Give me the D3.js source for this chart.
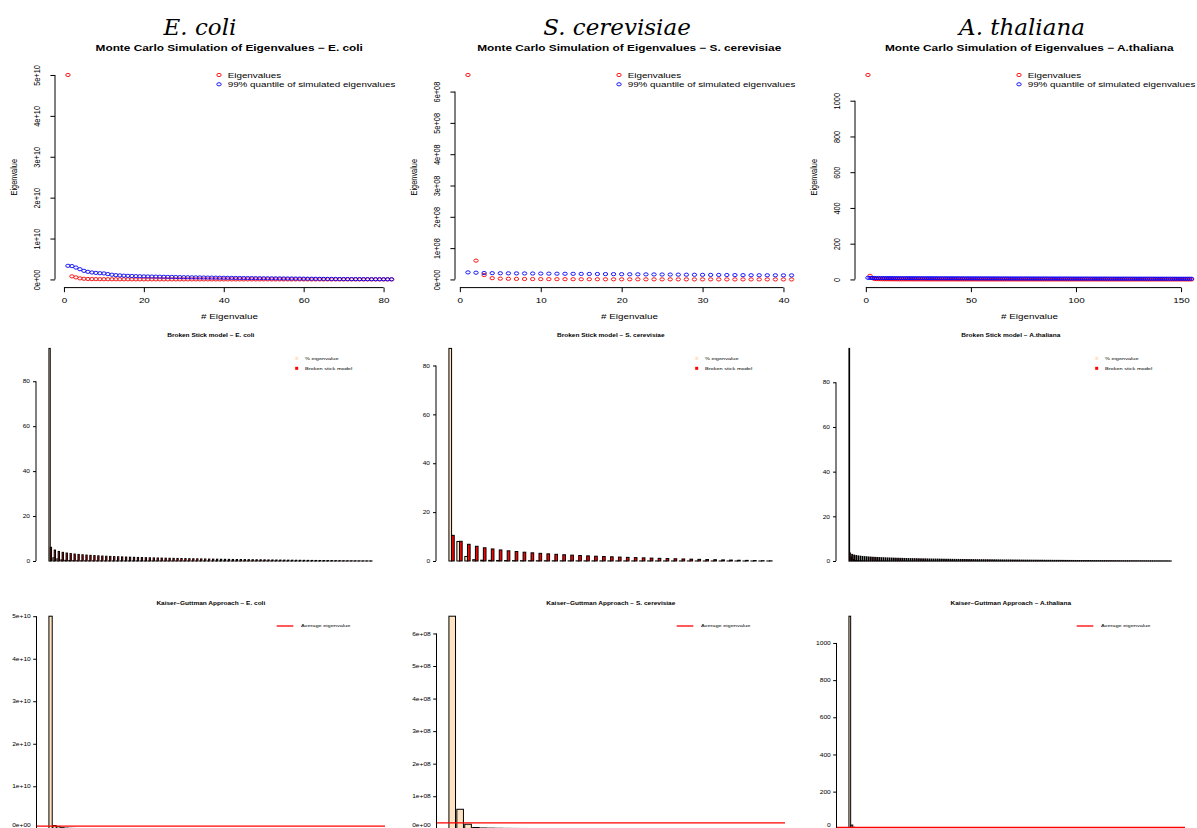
<!DOCTYPE html>
<html>
<head>
<meta charset="utf-8">
<script src="https://cdn.jsdelivr.net/npm/d3@7/dist/d3.min.js"></script>
<style>
  body { margin: 0; background: #fff; }
  svg { display: block; font-family: "Liberation Sans", Arial, Helvetica, sans-serif; }
</style>
</head>
<body>
<svg id="chart" width="1197" height="828"></svg>
<script>
// ---- values ----
const species = ["E. coli", "S. cerevisiae", "A. thaliana"];
const plotNames = ["E. coli", "S. cerevisiae", "A.thaliana"];

const ecoliEigen = [
  5.0e10, 7.5e8, 5.0e8, 2.6e8, 1.6e8, 1.1e8, 8.5e7, 7.0e7, 6.0e7, 5.2e7,
  4.6e7, 4.1e7, 3.7e7, 3.4e7, 3.1e7, 2.9e7, 2.7e7, 2.5e7, 2.3e7, 2.2e7,
  2.1e7, 2.0e7, 1.9e7, 1.8e7, 1.7e7, 1.65e7, 1.6e7, 1.5e7, 1.45e7, 1.4e7,
  1.35e7, 1.3e7, 1.25e7, 1.2e7, 1.15e7, 1.1e7, 1.05e7, 1.0e7, 9.8e6, 9.5e6,
  9.2e6, 9.0e6, 8.7e6, 8.5e6, 8.2e6, 8.0e6, 7.8e6, 7.5e6, 7.2e6, 7.0e6,
  6.8e6, 6.6e6, 6.4e6, 6.2e6, 6.0e6, 5.8e6, 5.6e6, 5.4e6, 5.2e6, 5.0e6,
  4.8e6, 4.6e6, 4.4e6, 4.2e6, 4.0e6, 3.8e6, 3.6e6, 3.4e6, 3.2e6, 3.0e6,
  2.8e6, 2.6e6, 2.4e6, 2.2e6, 2.0e6, 1.8e6, 1.6e6, 1.4e6, 1.2e6, 1.0e6,
  8.0e5, 6.0e5];
const ecoliSim99 = [
  3.33e9, 3.26e9, 2.9e9, 2.5e9, 2.1e9, 1.86e9, 1.7e9, 1.6e9, 1.52e9, 1.47e9,
  1.3e9, 1.15e9, 1.05e9, 9.8e8, 9.2e8, 8.8e8, 8.4e8, 8.0e8, 7.7e8, 7.4e8,
  7.2e8, 7.0e8, 6.8e8, 6.6e8, 6.4e8, 6.2e8, 6.0e8, 5.8e8, 5.6e8, 5.4e8,
  5.3e8, 5.1e8, 5.0e8, 4.8e8, 4.7e8, 4.5e8, 4.4e8, 4.3e8, 4.1e8, 4.0e8,
  3.9e8, 3.8e8, 3.6e8, 3.5e8, 3.4e8, 3.3e8, 3.2e8, 3.1e8, 3.0e8, 2.9e8,
  2.8e8, 2.7e8, 2.6e8, 2.5e8, 2.4e8, 2.3e8, 2.2e8, 2.1e8, 2.0e8, 1.9e8,
  1.8e8, 1.7e8, 1.6e8, 1.5e8, 1.4e8, 1.3e8, 1.2e8, 1.1e8, 1.0e8, 9.5e7,
  9.0e7, 8.5e7, 8.0e7, 7.5e7, 7.0e7, 6.5e7, 6.0e7, 5.5e7, 5.0e7, 4.5e7,
  4.0e7, 3.5e7];
const ecoliBroken = [
  6.09, 4.87, 4.26, 3.85, 3.54, 3.30, 3.10, 2.92, 2.77, 2.64,
  2.51, 2.40, 2.30, 2.21, 2.12, 2.04, 1.96, 1.89, 1.82, 1.76,
  1.70, 1.64, 1.58, 1.53, 1.48, 1.43, 1.38, 1.34, 1.30, 1.25,
  1.21, 1.17, 1.14, 1.10, 1.06, 1.03, 0.99, 0.96, 0.93, 0.90,
  0.87, 0.84, 0.81, 0.78, 0.75, 0.73, 0.70, 0.67, 0.65, 0.62,
  0.60, 0.57, 0.55, 0.53, 0.51, 0.48, 0.46, 0.44, 0.42, 0.40,
  0.38, 0.36, 0.34, 0.32, 0.30, 0.28, 0.26, 0.24, 0.23, 0.21,
  0.19, 0.17, 0.16, 0.14, 0.12, 0.11, 0.09, 0.08, 0.06, 0.05,
  0.03, 0.01];

const scerEigen = [
  6.53e8, 6.0e7, 1.4e7, 4.0e6, 2.5e6, 2.0e6, 1.6e6, 1.3e6, 1.1e6, 1.0e6,
  9.0e5, 8.5e5, 8.0e5, 7.0e5, 6.5e5, 6.0e5, 5.5e5, 5.0e5, 4.6e5, 4.2e5,
  3.9e5, 3.6e5, 3.3e5, 3.0e5, 2.8e5, 2.6e5, 2.4e5, 2.2e5, 2.0e5, 1.8e5,
  1.6e5, 1.4e5, 1.2e5, 1.0e5, 9.0e4, 8.0e4, 7.0e4, 6.0e4, 5.0e4, 4.0e4,
  3.0e4];
const scerSim99 = [
  2.25e7, 2.15e7, 2.05e7, 2.0e7, 1.97e7, 1.95e7, 1.93e7, 1.91e7, 1.89e7, 1.87e7,
  1.85e7, 1.83e7, 1.81e7, 1.79e7, 1.77e7, 1.75e7, 1.73e7, 1.71e7, 1.69e7, 1.67e7,
  1.65e7, 1.63e7, 1.61e7, 1.59e7, 1.57e7, 1.55e7, 1.53e7, 1.51e7, 1.49e7, 1.47e7,
  1.45e7, 1.43e7, 1.41e7, 1.39e7, 1.37e7, 1.35e7, 1.34e7, 1.33e7, 1.32e7, 1.31e7,
  1.30e7];
const scerBroken = [
  10.49, 8.06, 6.84, 6.02, 5.41, 4.93, 4.52, 4.17, 3.87, 3.60,
  3.35, 3.13, 2.93, 2.74, 2.56, 2.40, 2.25, 2.11, 1.97, 1.84,
  1.72, 1.60, 1.49, 1.39, 1.29, 1.19, 1.09, 1.00, 0.92, 0.83,
  0.75, 0.67, 0.60, 0.52, 0.45, 0.38, 0.31, 0.25, 0.18, 0.12,
  0.06];

const athaEigen = [
  1144, 20, 8, 3, 2, 1.6, 1.3, 1.1, 1.0, 0.9,
  0.8, 0.75, 0.7, 0.65, 0.6, 0.57, 0.54, 0.51, 0.48, 0.46,
  0.44, 0.42, 0.40, 0.38, 0.36, 0.35, 0.34, 0.33, 0.32, 0.31,
  0.30, 0.29, 0.28, 0.27, 0.26, 0.25, 0.24, 0.23, 0.22, 0.21,
  0.205, 0.2, 0.195, 0.19, 0.185, 0.18, 0.175, 0.17, 0.165, 0.16,
  0.155, 0.15, 0.145, 0.14, 0.135, 0.13, 0.125, 0.12, 0.118, 0.116,
  0.114, 0.112, 0.11, 0.108, 0.106, 0.104, 0.102, 0.1, 0.098, 0.096,
  0.094, 0.092, 0.09, 0.088, 0.086, 0.084, 0.082, 0.08, 0.078, 0.076,
  0.074, 0.072, 0.07, 0.068, 0.066, 0.064, 0.062, 0.06, 0.058, 0.056,
  0.054, 0.052, 0.05, 0.048, 0.046, 0.044, 0.042, 0.04, 0.038, 0.036,
  0.035, 0.034, 0.033, 0.032, 0.031, 0.030, 0.029, 0.028, 0.027, 0.026,
  0.025, 0.024, 0.023, 0.022, 0.021, 0.020, 0.019, 0.018, 0.017, 0.016,
  0.015, 0.0145, 0.014, 0.0135, 0.013, 0.0125, 0.012, 0.0115, 0.011, 0.0105,
  0.010, 0.0095, 0.009, 0.0085, 0.008, 0.0075, 0.007, 0.0065, 0.006, 0.0055,
  0.005, 0.0047, 0.0044, 0.0041, 0.0038, 0.0035, 0.0032, 0.0029, 0.0026, 0.0023,
  0.002, 0.0017, 0.0014, 0.0011, 0.0008];
const athaSim99 = [
  9.0, 8.6, 8.3, 8.1, 7.9, 7.8, 7.7, 7.6, 7.5, 7.45,
  7.4, 7.35, 7.3, 7.25, 7.2, 7.15, 7.1, 7.05, 7.0, 6.97,
  6.94, 6.91, 6.88, 6.85, 6.82, 6.79, 6.76, 6.73, 6.7, 6.67,
  6.64, 6.61, 6.58, 6.55, 6.52, 6.49, 6.46, 6.43, 6.4, 6.37,
  6.34, 6.31, 6.28, 6.25, 6.22, 6.19, 6.16, 6.13, 6.1, 6.07,
  6.04, 6.01, 5.98, 5.95, 5.92, 5.89, 5.86, 5.83, 5.8, 5.77,
  5.74, 5.71, 5.68, 5.65, 5.62, 5.59, 5.56, 5.53, 5.5, 5.48,
  5.46, 5.44, 5.42, 5.4, 5.38, 5.36, 5.34, 5.32, 5.3, 5.28,
  5.26, 5.24, 5.22, 5.2, 5.18, 5.16, 5.14, 5.12, 5.1, 5.08,
  5.06, 5.04, 5.02, 5.0, 4.98, 4.96, 4.94, 4.92, 4.9, 4.88,
  4.86, 4.84, 4.82, 4.8, 4.78, 4.76, 4.74, 4.72, 4.7, 4.68,
  4.66, 4.64, 4.62, 4.6, 4.58, 4.56, 4.54, 4.52, 4.5, 4.48,
  4.46, 4.44, 4.42, 4.4, 4.38, 4.36, 4.34, 4.32, 4.3, 4.28,
  4.26, 4.24, 4.22, 4.2, 4.18, 4.16, 4.14, 4.12, 4.1, 4.08,
  4.06, 4.04, 4.02, 4.0, 3.98, 3.96, 3.94, 3.92, 3.9, 3.88,
  3.86, 3.84, 3.82, 3.8, 3.78];
const athaBroken = [
  3.63, 2.98, 2.66, 2.45, 2.28, 2.16, 2.05, 1.96, 1.87, 1.80,
  1.74, 1.68, 1.63, 1.58, 1.53, 1.49, 1.45, 1.41, 1.37, 1.34,
  1.31, 1.28, 1.25, 1.22, 1.19, 1.17, 1.14, 1.12, 1.09, 1.07,
  1.05, 1.03, 1.01, 0.99, 0.97, 0.95, 0.94, 0.92, 0.90, 0.88,
  0.87, 0.85, 0.84, 0.82, 0.81, 0.79, 0.78, 0.77, 0.75, 0.74,
  0.73, 0.71, 0.70, 0.69, 0.68, 0.66, 0.65, 0.64, 0.63, 0.62,
  0.61, 0.60, 0.59, 0.58, 0.57, 0.56, 0.55, 0.54, 0.53, 0.52,
  0.51, 0.50, 0.49, 0.48, 0.47, 0.47, 0.46, 0.45, 0.44, 0.43,
  0.42, 0.42, 0.41, 0.40, 0.39, 0.39, 0.38, 0.37, 0.36, 0.36,
  0.35, 0.34, 0.34, 0.33, 0.32, 0.31, 0.31, 0.30, 0.29, 0.29,
  0.28, 0.28, 0.27, 0.26, 0.26, 0.25, 0.24, 0.24, 0.23, 0.23,
  0.22, 0.21, 0.21, 0.20, 0.20, 0.19, 0.19, 0.18, 0.18, 0.17,
  0.16, 0.16, 0.15, 0.15, 0.14, 0.14, 0.13, 0.13, 0.12, 0.12,
  0.11, 0.11, 0.10, 0.10, 0.09, 0.09, 0.08, 0.08, 0.07, 0.07,
  0.07, 0.06, 0.06, 0.05, 0.05, 0.04, 0.04, 0.03, 0.03, 0.03,
  0.02, 0.02, 0.01, 0.01, 0.00];

const eigenSets = [ecoliEigen, scerEigen, athaEigen];
const simSets = [ecoliSim99, scerSim99, athaSim99];
const brokenSets = [ecoliBroken, scerBroken, athaBroken];

const xTicksMC = [[0, 20, 40, 60, 80], [0, 10, 20, 30, 40], [0, 50, 100, 150]];
const yTicks = [
  [0, 1e10, 2e10, 3e10, 4e10, 5e10],
  [0, 1e8, 2e8, 3e8, 4e8, 5e8, 6e8],
  [0, 200, 400, 600, 800, 1000]];
const yTicksBS = [0, 20, 40, 60, 80];

// ---- layout ----
const svg = d3.select("#chart");
svg.append("rect").attr("width", 1197).attr("height", 828).attr("fill", "#fff");
const PITCH = 400;
const SX = 1.33;           // the original picture is stretched sideways
const speciesX = [200, 617, 1022];

const sci = v => {
  const [m, e] = v.toExponential(0).split("e");
  return m + "e" + e[0] + e.slice(1).padStart(2, "0");
};
const fmtFor = k => k < 2 ? sci : d3.format("d");

function txt(g, x, y, s, o = {}) {
  return g.append("text")
    .attr("transform", `translate(${x},${y}) scale(${o.sx ?? SX},1)` + (o.rot ? ` rotate(${o.rot})` : ""))
    .attr("text-anchor", o.anchor || "middle")
    .attr("dominant-baseline", "central")
    .attr("font-size", o.size || 7.4)
    .attr("font-weight", o.bold ? "bold" : "normal")
    .attr("fill", o.fill || "#000")
    .text(s);
}

function fixAxis(ax, from, to, horizontal) {
  ax.attr("font-family", null).attr("font-size", null);
  ax.select(".domain").attr("stroke", "#000")
    .attr("d", horizontal ? `M${from},0H${to}` : `M0,${from}V${to}`);
  ax.selectAll(".tick line").attr("stroke", "#000");
  ax.selectAll(".tick text").attr("fill", "#000");
}

// ---- row 1: Monte Carlo simulation ----
function monteCarlo(k) {
  const eig = eigenSets[k], sim = simSets[k];
  const ox = k * PITCH, n = eig.length;
  const g = svg.append("g");
  const padX = 0.04 * (n - 1);
  const x = d3.scaleLinear().domain([1 - padX, n + padX]).range([ox + 55, ox + 404.5]);
  const all = eig.concat(sim);
  const lo = d3.min(all), hi = d3.max(all), padY = 0.04 * (hi - lo);
  const y = d3.scaleLinear().domain([lo - padY, hi + padY]).range([287.6, 66.8]);
  const xt = xTicksMC[k], yt = yTicks[k];

  const xa = g.append("g").attr("transform", "translate(0,287.6)")
    .call(d3.axisBottom(x).tickValues(xt).tickSize(4.6).tickSizeOuter(0));
  fixAxis(xa, x(xt[0]), x(xt[xt.length - 1]), true);
  xa.selectAll(".tick text").attr("y", null).attr("dy", null)
    .attr("dominant-baseline", "central").attr("font-size", 7.4)
    .attr("transform", `translate(0,13) scale(${SX},1)`);

  const ya = g.append("g").attr("transform", `translate(${ox + 55},0)`)
    .call(d3.axisLeft(y).tickValues(yt).tickFormat(fmtFor(k)).tickSize(4.6).tickSizeOuter(0));
  fixAxis(ya, y(yt[0]), y(yt[yt.length - 1]), false);
  ya.selectAll(".tick text").attr("x", null).attr("dy", null)
    .attr("text-anchor", "middle").attr("dominant-baseline", "central").attr("font-size", 7.4)
    .attr("transform", `translate(-18.5,0) scale(${SX},1) rotate(-90)`);

  const dots = (data, col) => g.append("g").selectAll("ellipse").data(data).join("ellipse")
    .attr("cx", (d, i) => x(i + 1)).attr("cy", d => y(d))
    .attr("rx", 2.2).attr("ry", 1.6)
    .attr("fill", "none").attr("stroke", col).attr("stroke-width", 0.9);
  dots(eig, "red");
  dots(sim, "blue");

  txt(g, ox + 229.2, 48, `Monte Carlo Simulation of Eigenvalues \u2212 ${plotNames[k]}`, {size: 8.9, bold: true});
  txt(g, ox + 229.5, 316.7, "# Eigenvalue");
  txt(g, ox + 13.3, 177.2, "Eigenvalue", {rot: -90});

  const leg = [["Eigenvalues", "red"], ["99% quantile of simulated eigenvalues", "blue"]];
  leg.forEach(([label, col], i) => {
    g.append("ellipse").attr("cx", ox + 219).attr("cy", 75 + i * 9.3)
      .attr("rx", 2.2).attr("ry", 1.6).attr("fill", "none").attr("stroke", col).attr("stroke-width", 0.9);
    txt(g, ox + 227.7, 75 + i * 9.3, label, {anchor: "start"});
  });
}

// ---- row 2: broken stick model ----
function brokenStick(k) {
  const eig = eigenSets[k], bs = brokenSets[k];
  const ox = k * PITCH, n = eig.length;
  const total = d3.sum(eig);
  const pct = eig.map(v => v / total * 100);
  const g = svg.append("g");
  const padX = 0.04 * (3 * n - 1);
  const x = d3.scaleLinear().domain([1 - padX, 3 * n + padX]).range([ox + 36, ox + 385]);
  const hi = d3.max(pct.concat(bs));
  const y = d3.scaleLinear().domain([-0.04 * hi, 1.04 * hi]).range([569.5, 339.9]);

  const bars = (data, off, fill) => g.append("g").selectAll("rect").data(data).join("rect")
    .attr("x", (d, i) => x(3 * i + off)).attr("width", (d, i) => x(3 * i + off + 1) - x(3 * i + off))
    .attr("y", d => y(d)).attr("height", d => y(0) - y(d))
    .attr("fill", fill).attr("stroke", "#000").attr("stroke-width", 1);
  bars(pct, 1, "bisque");
  bars(bs, 2, "red");

  const ya = g.append("g").attr("transform", `translate(${ox + 36},0)`)
    .call(d3.axisLeft(y).tickValues(yTicksBS).tickSize(3).tickSizeOuter(0));
  fixAxis(ya, y(0), y(80), false);
  ya.selectAll(".tick text").attr("x", null).attr("dy", null)
    .attr("text-anchor", "end").attr("dominant-baseline", "central").attr("font-size", 4.9)
    .attr("transform", `translate(-6,0) scale(${SX},1)`);

  txt(g, ox + 210.8, 335, `Broken Stick model \u2212 ${plotNames[k]}`, {size: 4.9, bold: true});
  [["% eigenvalue", "bisque"], ["Broken stick model", "red"]].forEach(([label, col], i) => {
    g.append("rect").attr("x", ox + 295.2).attr("y", 356.8 + i * 10).attr("width", 3).attr("height", 3)
      .attr("fill", col);
    txt(g, ox + 305, 358.3 + i * 10, label, {anchor: "start", size: 4.2});
  });
}

// ---- row 3: Kaiser-Guttman ----
function kaiser(k) {
  const eig = eigenSets[k];
  const ox = k * PITCH, n = eig.length;
  const g = svg.append("g");
  const padX = 0.04 * (1.2 * n - 0.2);
  const x = d3.scaleLinear().domain([0.2 - padX, 1.2 * n + padX]).range([ox + 36, ox + 385]);
  const hi = d3.max(eig);
  const y = d3.scaleLinear().domain([-0.04 * hi, 1.04 * hi]).range([837.3, 607.7]);
  const yt = yTicks[k];

  g.append("g").selectAll("rect").data(eig).join("rect")
    .attr("x", (d, i) => x(0.2 + 1.2 * i)).attr("width", x(1.2) - x(0.2))
    .attr("y", d => y(d)).attr("height", d => y(0) - y(d))
    .attr("fill", "bisque").attr("stroke", "#000").attr("stroke-width", 1);

  const avg = d3.mean(eig);
  g.append("line").attr("x1", ox + 36).attr("x2", ox + 385).attr("y1", y(avg)).attr("y2", y(avg))
    .attr("stroke", "red").attr("stroke-width", 1.3);

  const ya = g.append("g").attr("transform", `translate(${ox + 36.5},0)`)
    .call(d3.axisLeft(y).tickValues(yt).tickFormat(fmtFor(k)).tickSize(3.3).tickSizeOuter(0));
  fixAxis(ya, y(yt[0]), y(yt[yt.length - 1]), false);
  // the zero label sits on the picture's bottom edge; keep it just inside
  ya.selectAll(".tick text").attr("x", null).attr("dy", null)
    .attr("text-anchor", "end").attr("dominant-baseline", "central").attr("font-size", 5.0)
    .attr("transform", d => `translate(-5.7,${Math.min(0, 825 - y(d))}) scale(${SX},1)`);

  txt(g, ox + 210.8, 603.3, `Kaiser\u2212Guttman Approach \u2212 ${plotNames[k]}`, {size: 4.9, bold: true});
  g.append("line").attr("x1", ox + 276.7).attr("x2", ox + 293.3).attr("y1", 626).attr("y2", 626)
    .attr("stroke", "red").attr("stroke-width", 1.3);
  txt(g, ox + 301, 626, "Average eigenvalue", {anchor: "start", size: 4.2});
}

species.forEach((s, k) => {
  svg.append("text")
    .attr("x", speciesX[k]).attr("y", 27)
    .attr("text-anchor", "middle").attr("dominant-baseline", "central")
    .attr("font-family", "'DejaVu Serif', serif").attr("font-style", "italic")
    .attr("font-size", 23).attr("fill", "#000")
    .text(s);
  monteCarlo(k);
  brokenStick(k);
  kaiser(k);
});
</script>
</body>
</html>
